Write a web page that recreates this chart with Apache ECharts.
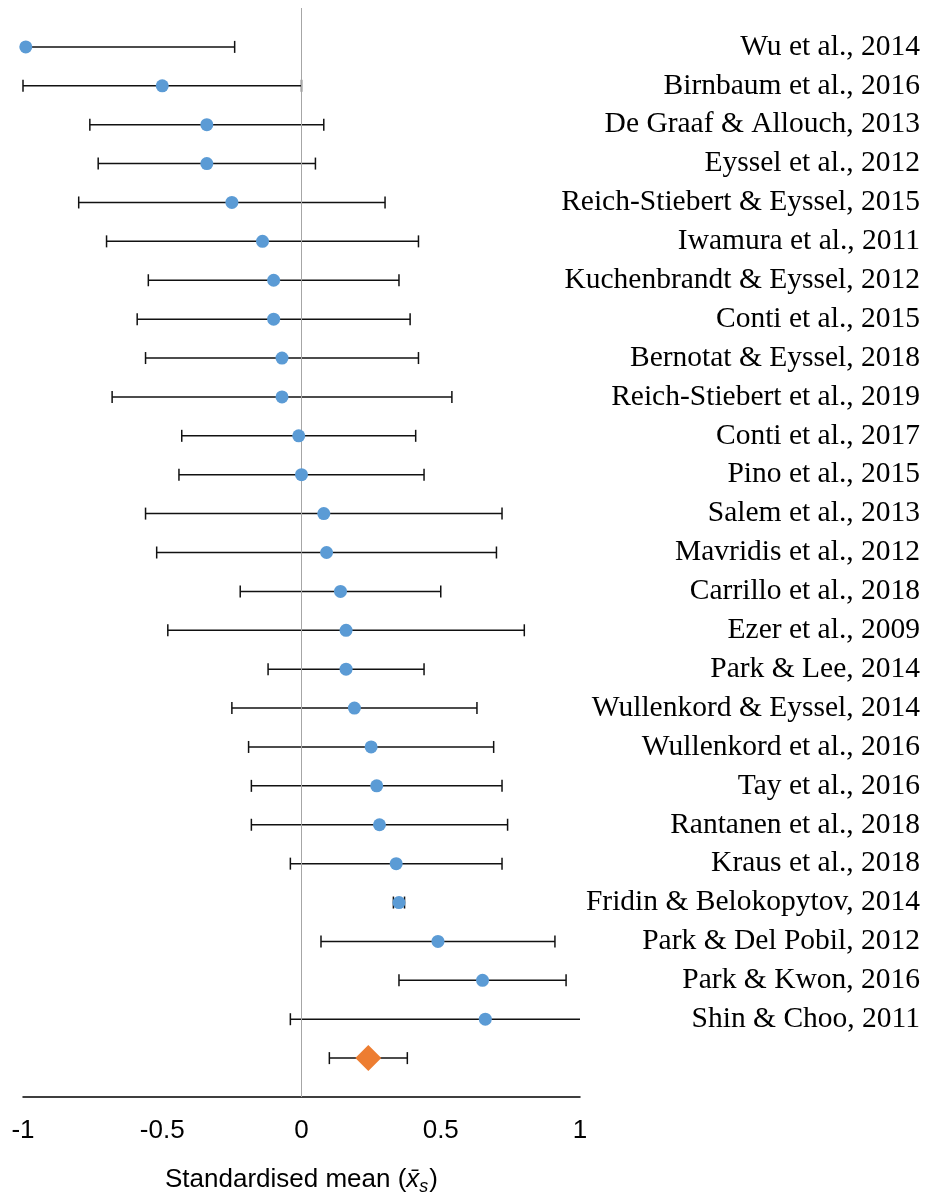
<!DOCTYPE html>
<html>
<head>
<meta charset="utf-8">
<script src="https://cdn.jsdelivr.net/npm/echarts@6/dist/echarts.min.js"></script>
<style>
  html, body { margin: 0; padding: 0; background: #fff; }
  #chart { width: 925px; height: 1201px; }
</style>
</head>
<body>
<div id="chart"></div>
<script>
// Studies, top to bottom
const studies = [
  'Wu et al., 2014',
  'Birnbaum et al., 2016',
  'De Graaf & Allouch, 2013',
  'Eyssel et al., 2012',
  'Reich-Stiebert & Eyssel, 2015',
  'Iwamura et al., 2011',
  'Kuchenbrandt & Eyssel, 2012',
  'Conti et al., 2015',
  'Bernotat & Eyssel, 2018',
  'Reich-Stiebert et al., 2019',
  'Conti et al., 2017',
  'Pino et al., 2015',
  'Salem et al., 2013',
  'Mavridis et al., 2012',
  'Carrillo et al., 2018',
  'Ezer et al., 2009',
  'Park & Lee, 2014',
  'Wullenkord & Eyssel, 2014',
  'Wullenkord et al., 2016',
  'Tay et al., 2016',
  'Rantanen et al., 2018',
  'Kraus et al., 2018',
  'Fridin & Belokopytov, 2014',
  'Park & Del Pobil, 2012',
  'Park & Kwon, 2016',
  'Shin & Choo, 2011'
];

// Standardised means and 95% interval bounds per study
const means = [-0.99, -0.50, -0.34, -0.34, -0.25, -0.14, -0.10, -0.10, -0.07, -0.07,
  -0.01, 0.00, 0.08, 0.09, 0.14, 0.16, 0.16, 0.19, 0.25, 0.27, 0.28, 0.34, 0.35, 0.49, 0.65, 0.66];
const lower = [-1.74, -1.00, -0.76, -0.73, -0.80, -0.70, -0.55, -0.59, -0.56, -0.68,
  -0.43, -0.44, -0.56, -0.52, -0.22, -0.48, -0.12, -0.25, -0.19, -0.18, -0.18, -0.04, 0.33, 0.07, 0.35, -0.04];
const upper = [-0.24, 0.00, 0.08, 0.05, 0.30, 0.42, 0.35, 0.39, 0.42, 0.54,
  0.41, 0.44, 0.72, 0.70, 0.50, 0.80, 0.44, 0.63, 0.69, 0.72, 0.74, 0.72, 0.37, 0.91, 0.95, 1.36];

// Pooled estimate
const pooledMean = [0.24];
const pooledLower = [0.10];
const pooledUpper = [0.38];

// x-axis ticks
const xTicks = [-1, -0.5, 0, 0.5, 1];

const chart = echarts.init(document.getElementById('chart'), null, { renderer: 'canvas' });

// rows: studies at 1..26, pooled at 27
const studyPts = means.map((m, i) => [m, i + 1]);
const pooledPts = pooledMean.map((m, i) => [m, studies.length + 1 + i]);
const barData = means.map((m, i) => [lower[i], upper[i], i + 1])
  .concat(pooledMean.map((m, i) => [pooledLower[i], pooledUpper[i], studies.length + 1 + i]));

// horizontal interval line with end caps, cut at the plot edges
function renderBar(params, api) {
  const lo = api.value(0), hi = api.value(1), row = api.value(2);
  const a = api.coord([lo, row]);
  const b = api.coord([hi, row]);
  const cs = params.coordSys;
  const cap = 6;
  const style = { stroke: '#111', lineWidth: 1.5 };
  const x0 = Math.max(a[0], cs.x), x1 = Math.min(b[0], cs.x + cs.width);
  const children = [{
    type: 'line', shape: { x1: x0, y1: a[1], x2: x1, y2: b[1] }, style: style
  }];
  if (a[0] >= cs.x - 0.5) {
    children.push({ type: 'line', shape: { x1: a[0], y1: a[1] - cap, x2: a[0], y2: a[1] + cap }, style: style });
  }
  if (b[0] <= cs.x + cs.width + 0.5) {
    children.push({ type: 'line', shape: { x1: b[0], y1: b[1] - cap, x2: b[0], y2: b[1] + cap }, style: style });
  }
  return { type: 'group', children: children };
}

const option = {
  animation: false,
  backgroundColor: '#fff',
  grid: { left: 23, right: 345, top: 8, bottom: 97, containLabel: false },
  xAxis: {
    type: 'value',
    min: -1, max: 1, interval: 0.5,
    axisLine: { show: true, onZero: false, lineStyle: { color: '#000', width: 1.5 } },
    axisTick: { show: false },
    splitLine: { show: false },
    axisLabel: {
      fontFamily: 'Liberation Sans', fontSize: 26, color: '#000', margin: 21,
      formatter: v => (xTicks.indexOf(v) >= 0 ? String(v) : '')
    },
    name: '{t|Standardised mean (}{x|x\u0304}{s|s}{t|)}',
    nameLocation: 'middle',
    nameGap: 66,
    nameTextStyle: {
      rich: {
        t: { fontFamily: 'Liberation Sans', fontSize: 26, color: '#000' },
        x: { fontFamily: 'Liberation Sans', fontSize: 26, fontStyle: 'italic', color: '#000' },
        s: { fontFamily: 'Liberation Sans', fontSize: 18, fontStyle: 'italic', color: '#000', padding: [15, 1, 0, 0] }
      }
    }
  },
  yAxis: {
    type: 'value',
    position: 'right',
    inverse: true,
    min: 0, max: 28, interval: 1,
    axisLine: { show: false },
    axisTick: { show: false },
    splitLine: { show: false },
    axisLabel: {
      align: 'right',
      margin: 340,
      fontFamily: 'Liberation Serif',
      fontSize: 29.5,
      color: '#000',
      padding: [3, 0, 0, 0],
      formatter: v => (v >= 1 && v <= studies.length ? studies[v - 1] : '')
    }
  },
  series: [
    {
      type: 'line',
      data: [],
      silent: true,
      markLine: {
        silent: true,
        symbol: 'none',
        label: { show: false },
        lineStyle: { color: '#a6a6a6', width: 1, type: 'solid' },
        data: [{ xAxis: 0 }]
      }
    },
    {
      type: 'custom',
      renderItem: renderBar,
      data: barData,
      encode: { x: [0, 1], y: 2 },
      z: 3
    },
    {
      type: 'scatter',
      data: studyPts,
      symbol: 'circle',
      symbolSize: 13,
      itemStyle: { color: '#5b9bd5', opacity: 1 },
      z: 5
    },
    {
      type: 'scatter',
      data: pooledPts,
      symbol: 'diamond',
      symbolSize: [26, 26],
      itemStyle: { color: '#ed7d31', opacity: 1 },
      z: 5
    }
  ]
};

chart.setOption(option);
</script>
</body>
</html>
